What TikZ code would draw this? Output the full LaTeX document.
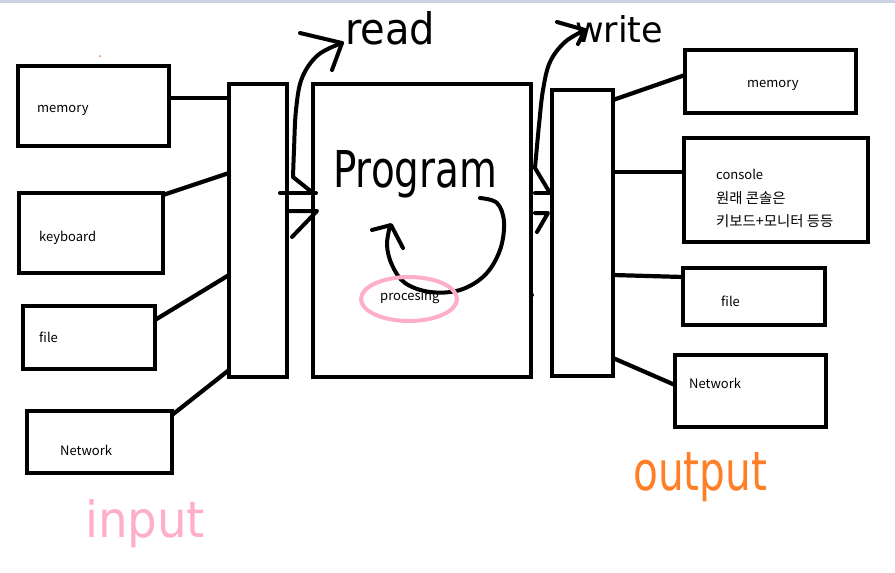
\documentclass[tikz,border=0pt]{standalone}
\usepackage{fontspec}
\usepackage{graphicx}
\setmainfont{Noto Sans CJK KR}
\newfontfamily\handfont{DejaVu Sans}
\usetikzlibrary{shapes.geometric}
\definecolor{rose}{HTML}{FFAEC9}
\definecolor{paintorange}{HTML}{FF7F27}
\definecolor{topstrip}{HTML}{C8D2E0}
\begin{document}
\begin{tikzpicture}[x=1pt,y=-1pt,
  box/.style={draw=black,line width=4.2pt,rectangle,inner sep=0pt,outer sep=0pt},
  wire/.style={draw=black,line width=4.2pt},
  stroke/.style={draw=black,line width=4pt,line cap=round,line join=round},
  lbl/.style={font=\fontsize{13pt}{15pt}\selectfont,anchor=base west,inner sep=0pt},
  klbl/.style={font=\fontsize{14.4pt}{16pt}\selectfont,anchor=base west,inner sep=0pt},
  hand/.style={font=\handfont,anchor=base west,inner sep=0pt}]
\useasboundingbox (0,0) rectangle (895,573);
\fill[white] (0,0) rectangle (895,573);
\fill[topstrip] (0,0) rectangle (895,2.5);

% input devices
\node[box,minimum width=151pt,minimum height=80pt] (lmem)  at (93.5,106) {};
\node[box,minimum width=144pt,minimum height=80pt] (lkey)  at (91,233) {};
\node[box,minimum width=132pt,minimum height=63pt] (lfile) at (89,337.5) {};
\node[box,minimum width=145pt,minimum height=62pt] (lnet)  at (99.5,442) {};
% input stream, program, output stream
\node[box,minimum width=58pt,minimum height=293pt]  (lbar) at (258,230.5) {};
\node[box,minimum width=218pt,minimum height=293pt] (prog) at (422,230.5) {};
\node[box,minimum width=61pt,minimum height=286pt]  (rbar) at (582.5,233) {};
% output devices
\node[box,minimum width=171pt,minimum height=63pt]  (rmem)  at (770.5,81.5) {};
\node[box,minimum width=184pt,minimum height=104pt] (rcon)  at (776,190) {};
\node[box,minimum width=142pt,minimum height=57pt]  (rfile) at (754,296.5) {};
\node[box,minimum width=151pt,minimum height=72pt]  (rnet)  at (750.5,391) {};

% device labels
\node[lbl] (tlmem)  at (37,112)  {memory};
\node[lbl] (tlkey)  at (39,241)  {keyboard};
\node[lbl] (tlfile) at (39,342)  {file};
\node[lbl] (tlnet)  at (60,455)  {Network};
\node[lbl] (trmem)  at (747,87)  {memory};
\node[lbl] (trcon)  at (716,179) {console};
\node[klbl] (trcon2) at (716,203) {원래 콘솔은};
\node[klbl] (trcon3) at (716,226) {키보드+모니터 등등};
\node[lbl] (trfile) at (721,306) {file};
\node[lbl] (trnet)  at (689,388) {Network};
\node[lbl] (tproc)  at (380,300) {procesing};

% connectors into the input stream
\draw[wire] ([yshift=8pt]lmem.east) -- ([yshift=132.5pt]lbar.west);
\draw[wire] ([yshift=-2pt]lkey.north east) -- ([yshift=57.5pt]lbar.west);
\draw[wire] ([yshift=17.5pt]lfile.east) -- ([yshift=-44.5pt]lbar.west);
\draw[wire] ([yshift=-4pt]lnet.north east) -- ([yshift=-139.5pt]lbar.west);
% connectors out of the output stream
\draw[wire] ([yshift=133pt]rbar.east) -- ([yshift=6.5pt]rmem.west);
\draw[wire] ([yshift=61pt]rbar.east) -- ([yshift=18pt]rcon.west);
\draw[wire] ([yshift=-42pt]rbar.east) -- ([yshift=19.5pt]rfile.west);
\draw[wire] ([yshift=-125pt]rbar.east) -- ([yshift=6pt]rnet.west);

% read arrow
\draw[stroke] plot[smooth,tension=0.6] coordinates {(342,43) (318,55) (302,78) (296,110) (294,150) (293,177)} -- (313,193);
\draw[stroke] (300,33) -- (342,43) -- (332,70);
\draw[stroke] (280,193) -- (316,193);
\draw[stroke] (287,211) -- (317,211) -- (292,237);

% write arrow
\draw[stroke] plot[smooth,tension=0.6] coordinates {(585,30) (565,42) (550,62) (543,90) (539,125) (535,168)} -- (550,193);
\draw[stroke] (557,22) -- (585,30) -- (578,44);
\draw[stroke] (535,193) -- (551,193);
\draw[stroke] (535,213) -- (548,213) -- (537,232);

% processing loop
\draw[stroke] plot[smooth,tension=0.6] coordinates {(480,198) (497,203) (504,222) (500,250) (485,275) (460,290) (430,292) (405,283) (392,265) (387,245) (390,226)};
\draw[stroke] (372,230) -- (391,225) -- (403,248);
\draw[draw=rose,line width=4pt] (409,299) ellipse [x radius=48, y radius=22];

% stray marks
\fill[black] (532,295) circle (2pt);
\fill[paintorange] (100,56) circle (1pt);

% handwritten titles
\node[hand] (tread)  at (345,44)  {\resizebox{90pt}{33pt}{read}};
\node[hand] (twrite) at (575,42)  {\resizebox{88pt}{27pt}{write}};
\node[hand] (tprog)  at (333,187) {\resizebox{164pt}{37pt}{Program}};
\node[hand,text=rose] (tin) at (85,537) {\resizebox{120pt}{38pt}{input}};
\node[hand,text=paintorange] (tout) at (633,490) {\resizebox{134pt}{38pt}{output}};
\end{tikzpicture}
\end{document}
